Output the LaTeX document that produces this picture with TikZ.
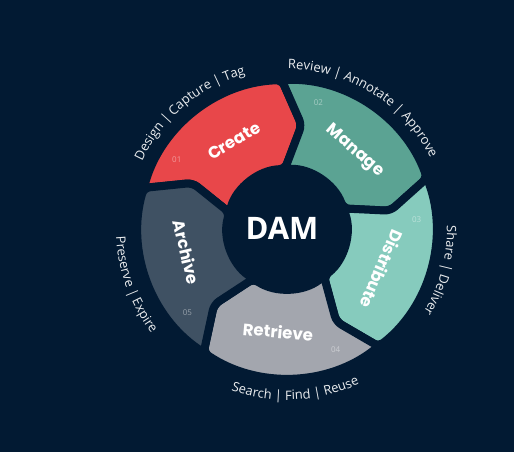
\documentclass[tikz,border=0pt]{standalone}
\usepackage{fontspec}
\setmainfont{Open Sans}
\newfontfamily\segfont{Poppins}
\usetikzlibrary{decorations.text}
\definecolor{navy}{HTML}{021A33}
\definecolor{createred}{HTML}{E8474A}
\definecolor{manageteal}{HTML}{5BA393}
\definecolor{distmint}{HTML}{86CBBD}
\definecolor{retrgrey}{HTML}{A3A6AE}
\definecolor{archslate}{HTML}{3F5163}

\begin{document}
\begin{tikzpicture}[
  x=1pt, y=1pt,
  segment/.style={draw=navy, line width=8pt, line join=round, rounded corners=6pt},
  seglabel/.style={font=\segfont\bfseries\fontsize{16.5}{16.5}\selectfont, text=white, inner sep=0pt},
  num/.style={font=\fontsize{8}{8}\selectfont, text=white, opacity=0.45, inner sep=0pt},
  hub/.style={font=\bfseries\fontsize{31}{31}\selectfont, text=white},
  arcnote/.style={decorate, decoration={text along path, text align=center,
    text color=white!92!navy, text format delimiters={[}{]}, text={#1}}}
]
% Background
\fill[navy] (0,0) rectangle (514,452);
\useasboundingbox (0,0) rectangle (514,452);
\def\Ro{149pt}\def\Ri{60pt}\def\Rm{105pt}

\begin{scope}[shift={(287,223)}]
% Segments
\foreach \t/\col/\lab/\nr/\rot/\name in {
    164/createred/Create/01/-90/create,
    92/manageteal/Manage/02/-90/manage,
    20/distmint/Distribute/03/-90/distribute,
    -52/retrgrey/Retrieve/04/90/retrieve,
    -124/archslate/Archive/05/90/archive}
{
  \pgfmathsetmacro{\l}{\t-72}
  \pgfmathsetmacro{\a}{\t-43}
  \filldraw[segment, fill=\col]
    (\t:\Ro) arc[start angle=\t, end angle=\l, radius=\Ro]
    -- (\l-10:\Rm) -- (\l:\Ri)
    arc[start angle=\l, end angle=\t, radius=\Ri]
    -- (\t-10:\Rm) -- cycle;
  \node[seglabel, rotate=\a+\rot] (lab-\name) at (\a:103pt) {\lab};
  \node[num] (nr-\name) at (\t-16:130pt) {\nr};
}

% Hub
\node[hub] (dam) at (-5,1) {DAM};

% Outer notes
\path[arcnote={[\fontsize{13}{13}\selectfont]Design | Capture | Tag}]
  (178:160pt) arc[start angle=178, end angle=82, radius=160pt];
\path[arcnote={[\fontsize{13}{13}\selectfont]Review | Annotate | Approve}]
  (106:160pt) arc[start angle=106, end angle=10, radius=160pt];
\path[arcnote={[\fontsize{13}{13}\selectfont]Share | Deliver}]
  (33:160pt) arc[start angle=33, end angle=-63, radius=160pt];
\path[arcnote={[\fontsize{13}{13}\selectfont]Search | Find | Reuse}]
  (-135:171pt) arc[start angle=-135, end angle=-39, radius=171pt];
\path[arcnote={[\fontsize{13}{13}\selectfont]Preserve | Expire}]
  (152:171pt) arc[start angle=152, end angle=248, radius=171pt];
\end{scope}
\end{tikzpicture}
\end{document}
